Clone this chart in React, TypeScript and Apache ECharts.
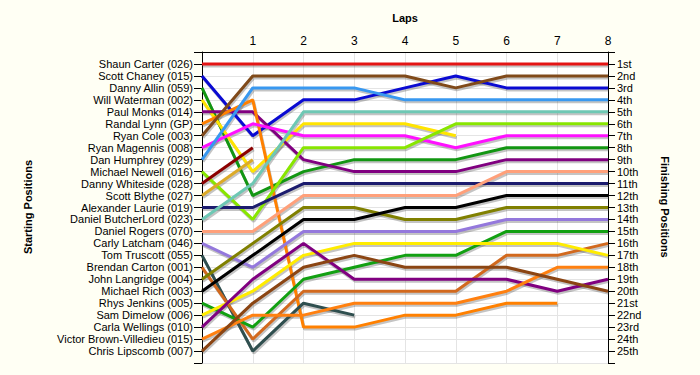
import React, { useEffect, useRef } from 'react';
import * as echarts from 'echarts';

const drivers = [
  'Shaun Carter (026)',
  'Scott Chaney (015)',
  'Danny Allin (059)',
  'Will Waterman (002)',
  'Paul Monks (014)',
  'Randal Lynn (GP)',
  'Ryan Cole (003)',
  'Ryan Magennis (008)',
  'Dan Humphrey (029)',
  'Michael Newell (016)',
  'Danny Whiteside (028)',
  'Scott Blythe (027)',
  'Alexander Laurie (019)',
  'Daniel ButcherLord (023)',
  'Daniel Rogers (070)',
  'Carly Latcham (046)',
  'Tom Truscott (055)',
  'Brendan Carton (001)',
  'John Langridge (004)',
  'Michael Rich (003)',
  'Rhys Jenkins (005)',
  'Sam Dimelow (006)',
  'Carla Wellings (010)',
  'Victor Brown-Villedieu (015)',
  'Chris Lipscomb (007)',
];

const finishLabels = [
  '1st', '2nd', '3rd', '4th', '5th', '6th', '7th', '8th', '9th', '10th',
  '11th', '12th', '13th', '14th', '15th', '16th', '17th', '18th', '19th', '20th',
  '21st', '22nd', '23rd', '24th', '25th',
];

const lapLabels = ['1', '2', '3', '4', '5', '6', '7', '8'];

const driverColors = [
  '#e41414', // Carter
  '#0a0ad2', // Chaney
  '#129612', // Allin
  '#ffe400', // Waterman
  '#800080', // Monks
  '#ff8000', // Lynn
  '#804a1a', // Cole
  '#ff10ff', // Magennis
  '#3898f0', // Humphrey
  '#88e600', // Newell
  '#8c0000', // Whiteside
  '#dcaa28', // Blythe
  '#1c1c6e', // Laurie
  '#6ec8b4', // ButcherLord
  '#ffa07a', // Rogers
  '#9478dc', // Latcham
  '#2f4f4f', // Truscott
  '#d2691e', // Carton
  '#808000', // Langridge
  '#000000', // Rich
  '#12a012', // Jenkins
  '#ffec00', // Dimelow
  '#800080', // Wellings
  '#ff8010', // Brown-Villedieu
  '#8b4513', // Lipscomb
];

// position of each driver at laps 0..n (shorter rows = retired)
const carterPos = [1, 1, 1, 1, 1, 1, 1, 1, 1];
const chaneyPos = [2, 7, 4, 4, 3, 2, 3, 3, 3];
const allinPos = [3, 12, 10, 9, 9, 9, 8, 8, 8];
const watermanPos = [4, 10, 6, 6, 6, 7];
const monksPos = [5, 5, 9, 10, 10, 10, 9, 9, 9];
const lynnPos = [6, 4, 23, 23, 22, 22, 21, 21];
const colePos = [7, 2, 2, 2, 2, 3, 2, 2, 2];
const magennisPos = [8, 6, 7, 7, 7, 8, 7, 7, 7];
const humphreyPos = [9, 3, 3, 3, 4, 4, 4, 4, 4];
const newellPos = [10, 14, 8, 8, 8, 6, 6, 6, 6];
const whitesidePos = [11, 8];
const blythePos = [12, 9];
const lauriePos = [13, 13, 11, 11, 11, 11, 11, 11, 11];
const butcherLordPos = [14, 11, 5, 5, 5, 5, 5, 5, 5];
const rogersPos = [15, 15, 12, 12, 12, 12, 10, 10, 10];
const latchamPos = [16, 18, 15, 15, 15, 15, 14, 14, 14];
const truscottPos = [17, 25, 21, 22];
const cartonPos = [18, 24, 20, 20, 20, 20, 17, 17, 16];
const langridgePos = [19, 16, 13, 13, 14, 14, 13, 13, 13];
const richPos = [20, 17, 14, 14, 13, 13, 12, 12, 12];
const jenkinsPos = [21, 23, 19, 18, 17, 17, 15, 15, 15];
const dimelowPos = [22, 20, 17, 16, 16, 16, 16, 16, 17];
const wellingsPos = [23, 19, 16, 19, 19, 19, 19, 20, 19];
const brownVilledieuPos = [24, 22, 22, 21, 21, 21, 20, 18, 18];
const lipscombPos = [25, 21, 18, 17, 18, 18, 18, 19, 20];

const lapPositions = [
  carterPos, chaneyPos, allinPos, watermanPos, monksPos, lynnPos, colePos,
  magennisPos, humphreyPos, newellPos, whitesidePos, blythePos, lauriePos,
  butcherLordPos, rogersPos, latchamPos, truscottPos, cartonPos, langridgePos,
  richPos, jenkinsPos, dimelowPos, wellingsPos, brownVilledieuPos, lipscombPos,
];

const FONT = 'Liberation Sans';

export default function App() {
  const ref = useRef<HTMLDivElement>(null);

  useEffect(() => {
    document.body.style.margin = '0';
    document.body.style.background = '#fffff4';
    const chart = echarts.init(ref.current!, null, { renderer: 'svg' });

    const maxPos = drivers.length + 1;
    const posTicks: number[] = [];
    for (let i = 0; i <= maxPos; i++) posTicks.push(i);
    const posLabels = drivers.map((_, i) => i + 1);
    const lapValues = lapLabels.map((l) => Number(l));

    const mainSeries = drivers.map((name, i) => ({
      name,
      type: 'line',
      xAxisIndex: 0,
      yAxisIndex: 0,
      showSymbol: false,
      symbol: 'none',
      silent: true,
      z: 4,
      data: lapPositions[i].map((p, lap) => [lap, p]),
      lineStyle: { color: driverColors[i], width: 3 },
    }));

    // shadow copies drawn on an identical grid offset by a couple of pixels
    const shadowSeries = drivers.map((name, i) => ({
      name: name + ' shadow',
      type: 'line',
      xAxisIndex: 1,
      yAxisIndex: 2,
      showSymbol: false,
      symbol: 'none',
      silent: true,
      z: 3,
      data: lapPositions[i].map((p, lap) => [lap, p]),
      lineStyle: { color: 'rgba(60,60,60,0.3)', width: 3 },
    }));

    const yCommon = {
      type: 'value',
      min: 0,
      max: maxPos,
      interval: 1,
      inverse: true,
      axisLine: { show: true, lineStyle: { color: '#000', width: 1 } },
    };

    chart.setOption({
      animation: false,
      backgroundColor: '#fffff4',
      grid: [
        {
          left: 202,
          right: 92,
          top: 52,
          bottom: 12,
          show: true,
          backgroundColor: '#ffffff',
          borderWidth: 0,
        },
        { left: 203, right: 91, top: 54, bottom: 10, show: false },
      ],
      xAxis: [
        {
          type: 'value',
          gridIndex: 0,
          position: 'top',
          min: 0,
          max: 8,
          interval: 1,
          axisLine: { show: true, lineStyle: { color: '#000', width: 1 } },
          axisTick: { show: false },
          axisLabel: {
            customValues: lapValues,
            formatter: (v: number) => lapLabels[v - 1] ?? '',
            color: '#000',
            fontFamily: FONT,
            fontSize: 12,
            margin: 5,
          },
          splitLine: { show: true, lineStyle: { color: '#e4e4e4', width: 1 } },
        },
        {
          type: 'value',
          gridIndex: 1,
          min: 0,
          max: 8,
          interval: 1,
          show: false,
        },
      ],
      yAxis: [
        {
          ...yCommon,
          gridIndex: 0,
          position: 'left',
          axisTick: { show: true, length: 8, customValues: posTicks, lineStyle: { color: '#000' } },
          axisLabel: {
            customValues: posLabels,
            formatter: (v: number) => drivers[v - 1] ?? '',
            color: '#000',
            fontFamily: FONT,
            fontSize: 11,
            margin: 9,
          },
          splitLine: { show: true, lineStyle: { color: '#e4e4e4', width: 1 } },
        },
        {
          ...yCommon,
          gridIndex: 0,
          position: 'right',
          axisTick: { show: true, length: 7, customValues: posTicks, lineStyle: { color: '#000' } },
          axisLabel: {
            customValues: posLabels,
            formatter: (v: number) => finishLabels[v - 1] ?? '',
            color: '#000',
            fontFamily: FONT,
            fontSize: 11,
            margin: 9,
          },
          splitLine: { show: false },
        },
        {
          type: 'value',
          gridIndex: 1,
          min: 0,
          max: maxPos,
          interval: 1,
          inverse: true,
          show: false,
        },
      ],
      graphic: [
        {
          type: 'text',
          x: 405,
          y: 18,
          style: {
            text: 'Laps',
            fontFamily: FONT,
            fontSize: 11,
            fontWeight: 'bold',
            fill: '#000',
            align: 'center',
            verticalAlign: 'middle',
          },
        },
        {
          type: 'text',
          x: 28,
          y: 207,
          rotation: Math.PI / 2,
          style: {
            text: 'Starting Positions',
            fontFamily: FONT,
            fontSize: 11,
            fontWeight: 'bold',
            fill: '#000',
            align: 'center',
            verticalAlign: 'middle',
          },
        },
        {
          type: 'text',
          x: 665,
          y: 207,
          rotation: -Math.PI / 2,
          style: {
            text: 'Finishing Positions',
            fontFamily: FONT,
            fontSize: 11,
            fontWeight: 'bold',
            fill: '#000',
            align: 'center',
            verticalAlign: 'middle',
          },
        },
      ],
      series: [...shadowSeries, ...mainSeries],
    });

    return () => chart.dispose();
  }, []);

  return <div ref={ref} style={{ width: 700, height: 375 }} />;
}
